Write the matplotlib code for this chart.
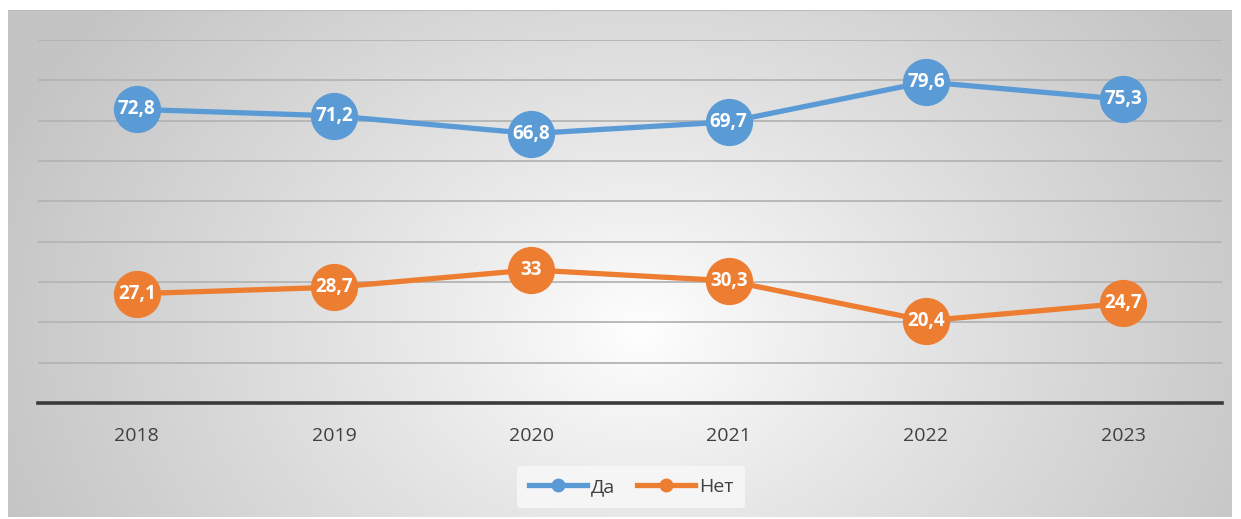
import numpy as np
import matplotlib.pyplot as plt
from matplotlib.lines import Line2D

plt.rcParams['font.family'] = ['Open Sans', 'DejaVu Sans']

# данные
years = ['2018', '2019', '2020', '2021', '2022', '2023']
da = [72.8, 71.2, 66.8, 69.7, 79.6, 75.3]
net = [27.1, 28.7, 33, 30.3, 20.4, 24.7]
da_labels = ['72,8', '71,2', '66,8', '69,7', '79,6', '75,3']
net_labels = ['27,1', '28,7', '33', '30,3', '20,4', '24,7']

blue = '#5B9BD5'
orange = '#ED7D31'

W, H = 1241, 519
fig = plt.figure(figsize=(W / 100, H / 100), dpi=100)
fig.patch.set_facecolor('white')

# фон с радиальным градиентом
bx0, by0, bx1, by1 = 8, 10, 1232, 517
bg = fig.add_axes([bx0 / W, 1 - by1 / H, (bx1 - bx0) / W, (by1 - by0) / H])
gx, gy = np.meshgrid(np.arange(bx0, bx1), np.arange(by0, by1))
r = np.sqrt((gx - 640) ** 2 + ((gy - 330) * 1.3) ** 2) / 680
r = np.clip(r, 0, 1)
v = 1.0 - 0.23 * r ** 0.9
bg.imshow(np.dstack([v, v, v]), aspect='auto', extent=[0, 1, 0, 1])
bg.axhline(1, color='#bcbcbc', lw=1.5)
bg.set_axis_off()

# основная область
ax = fig.add_axes([38 / W, 1 - 403 / H, (1222 - 38) / W, (403 - 40) / H])
ax.set_facecolor('none')
x = np.arange(len(years))
ax.set_xlim(-0.5, len(years) - 0.5)
ax.set_ylim(0, 90)
ax.set_yticks(np.arange(10, 91, 10))
ax.yaxis.grid(True, color='#b4b4b4', lw=1.3)
ax.tick_params(axis='y', left=False, labelleft=False)
ax.tick_params(axis='x', length=0, pad=17, labelsize=14, labelcolor='#404040')
ax.set_xticks(x)
ax.set_xticklabels(years)
for s in ['top', 'right', 'left']:
    ax.spines[s].set_visible(False)
ax.spines['bottom'].set_color('#3a3a3a')
ax.spines['bottom'].set_linewidth(2.6)

for vals, labs, col in [(da, da_labels, blue), (net, net_labels, orange)]:
    ax.plot(x, vals, color=col, lw=3.8, marker='o', ms=33, mec=col, mfc=col,
            zorder=3)
    for xi, yi, t in zip(x, vals, labs):
        ax.text(xi, yi, t, color='white', fontsize=13.5, fontweight='bold',
                ha='center', va='center', zorder=4)

# легенда
handles = [Line2D([0], [0], color=blue, lw=3.8, marker='o', ms=9),
           Line2D([0], [0], color=orange, lw=3.8, marker='o', ms=9)]
leg = fig.legend(handles, ['Да', 'Нет'], loc='center',
                 bbox_to_anchor=(631 / W, 1 - 487 / H), ncol=2,
                 frameon=True, fontsize=14, handlelength=3.0,
                 handletextpad=0.2, columnspacing=1.1, borderpad=0.6)
leg.get_frame().set_facecolor('#f5f5f5')
leg.get_frame().set_edgecolor('none')
leg.get_frame().set_alpha(1)
for t in leg.get_texts():
    t.set_color('#404040')

fig.savefig('out.png', dpi=100)
